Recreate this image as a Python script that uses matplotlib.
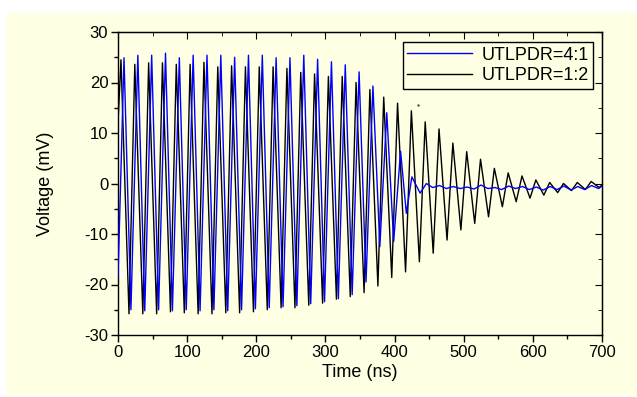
import matplotlib
matplotlib.use("Agg")
import matplotlib.pyplot as plt
from matplotlib.patches import Rectangle
from matplotlib.ticker import MultipleLocator

plt.rcParams['font.family'] = ['Liberation Sans', 'DejaVu Sans']
plt.rcParams['axes.unicode_minus'] = False

# UTLPDR=4:1 (blue), turning points
blue_t = [0, 8.7, 18.7, 28.7, 38.7, 48.7, 58.7, 68.7, 78.7, 88.7, 98.7,
          108.7, 118.7, 128.7, 138.7, 148.7, 158.7, 168.7, 178.7, 188.7, 198.7,
          208.7, 218.7, 228.7, 238.7, 248.7, 258.7, 268.7, 278.7, 288.7, 298.7,
          308.7, 318.7, 328.7, 338.7, 348.7, 358.7, 368.7, 378.7, 388.7, 398.7,
          408.7, 417, 425, 437, 446, 455, 465, 475, 485, 495, 505, 515, 525,
          535, 545, 555, 565, 575, 585, 595, 605, 615, 625, 635, 645, 655,
          665, 675, 685, 695, 700]
blue_v = [-18.7, 24.9, -25.0, 25.4, -25.2, 25.4, -25.0, 25.8, -25.2, 24.9, -25.0,
          25.4, -25.2, 25.4, -25.0, 25.4, -25.2, 25.0, -25.0, 25.4, -24.8,
          25.4, -24.6, 24.9, -24.4, 24.9, -24.2, 25.4, -23.8, 24.6, -23.4,
          24.1, -22.8, 23.5, -22.0, 22.1, -19.5, 19.3, -12.5, 14.0, -11.5,
          6.4, -5.9, 1.3, -1.9, 0.0, -0.8, -0.4, -1.0, -0.6, -1.0, -0.7, -1.1, -0.3,
          -1.0, -0.8, -1.2, -0.5, -1.0, -0.6, -1.2, -0.7, -1.3, -0.6, -1.2, -0.5, -1.3,
          -0.6, -1.2, -0.4, -1.0, -0.5]

# UTLPDR=1:2 (black)
black_t = [0, 4.3, 15.9, 24.3, 35.9, 44.3, 55.9, 64.3, 75.9, 84.3, 95.9,
           104.3, 115.9, 124.3, 135.9, 144.3, 155.9, 164.3, 175.9, 184.3, 195.9,
           204.3, 215.9, 224.3, 235.9, 244.3, 255.9, 264.3, 275.9, 284.3, 295.9,
           304.3, 315.9, 324.3, 335.9, 344.3, 355.9, 364.3, 375.9, 384.3, 395.9,
           404.3, 415.9, 424.3, 435.9, 444.3, 455.9, 464.3, 475.9, 484.3, 495.9,
           504.3, 515.9, 524.3, 535.9, 544.3, 555.9, 564.3, 575.9, 584.3, 595.9,
           604.3, 615.9, 624.3, 635.9, 644.3, 655.9, 664.3, 675.9, 684.3, 695.9, 700]
black_v = [12.0, 24.5, -25.8, 23.6, -25.8, 23.9, -25.8, 23.9, -25.4, 23.6, -25.6,
           23.6, -25.8, 24.0, -25.8, 23.1, -25.6, 23.3, -25.6, 23.1, -25.4,
           23.1, -25.0, 23.1, -24.6, 22.8, -24.6, 22.0, -24.1, 21.7, -23.7,
           21.2, -22.9, 21.2, -22.4, 20.0, -21.6, 18.6, -20.3, 17.1, -18.6,
           15.9, -17.5, 14.4, -15.5, 12.2, -13.8, 10.8, -11.2, 8.0, -9.2,
           6.3, -7.9, 4.8, -6.6, 3.0, -4.6, 2.1, -3.6, 1.5, -2.9,
           0.7, -2.3, 0.2, -1.8, 0.0, -1.4, 0.2, -1.2, 0.4, -0.8, -0.3]

# stray dot under the legend
dot_t = [433.7]
dot_v = [15.5]

bg = '#FFFFE3'

fig = plt.figure(figsize=(6.37, 3.97), dpi=100, facecolor='white')
fig.patches.append(Rectangle((6 / 637, 2 / 397), 631 / 637, 382 / 397,
                             transform=fig.transFigure, facecolor=bg,
                             edgecolor='none', zorder=-1))
ax = fig.add_axes([118 / 637, 1 - 335 / 397, 484 / 637, 303 / 397])
ax.set_facecolor(bg)

ax.plot(black_t, black_v, color='black', lw=1.0, label='UTLPDR=1:2', zorder=2)
ax.plot(blue_t, blue_v, color='#0000FF', lw=1.0, label='UTLPDR=4:1', zorder=3)
ax.plot(dot_t, dot_v, 'o', color='#555555', ms=0.8, zorder=3)

ax.set_xlim(0, 700)
ax.set_ylim(-30, 30)
ax.xaxis.set_major_locator(MultipleLocator(100))
ax.xaxis.set_minor_locator(MultipleLocator(50))
ax.yaxis.set_major_locator(MultipleLocator(10))
ax.yaxis.set_minor_locator(MultipleLocator(5))
ax.tick_params(which='both', direction='out', labelsize=12, width=1.0, color='black', pad=2)
ax.tick_params(which='major', length=5)
ax.tick_params(which='minor', length=3)
for s in ax.spines.values():
    s.set_linewidth(1.0)

top = ax.secondary_xaxis('top')
top.xaxis.set_major_locator(MultipleLocator(100))
top.xaxis.set_minor_locator(MultipleLocator(50))
top.tick_params(which='both', direction='in', labeltop=False)
top.tick_params(which='major', length=5)
top.tick_params(which='minor', length=3)
right = ax.secondary_yaxis('right')
right.yaxis.set_major_locator(MultipleLocator(10))
right.yaxis.set_minor_locator(MultipleLocator(5))
right.tick_params(which='both', direction='in', labelright=False)
right.tick_params(which='major', length=5)
right.tick_params(which='minor', length=3)

ax.set_xlabel('Time (ns)', fontsize=13, labelpad=3)
ax.set_ylabel('Voltage (mV)', fontsize=13, labelpad=22)

handles, labels = ax.get_legend_handles_labels()
leg = ax.legend(handles[::-1], labels[::-1], loc='upper right',
                bbox_to_anchor=(593 / 637, 1 - 42 / 397), bbox_transform=fig.transFigure,
                fontsize=13, frameon=True, fancybox=False, framealpha=1,
                facecolor=bg, edgecolor='black', handlelength=3.6,
                borderpad=0.25, labelspacing=0.2, handletextpad=0.5, borderaxespad=0)
leg.get_frame().set_linewidth(1.0)

fig.savefig('out.png', dpi=100, facecolor='white')
